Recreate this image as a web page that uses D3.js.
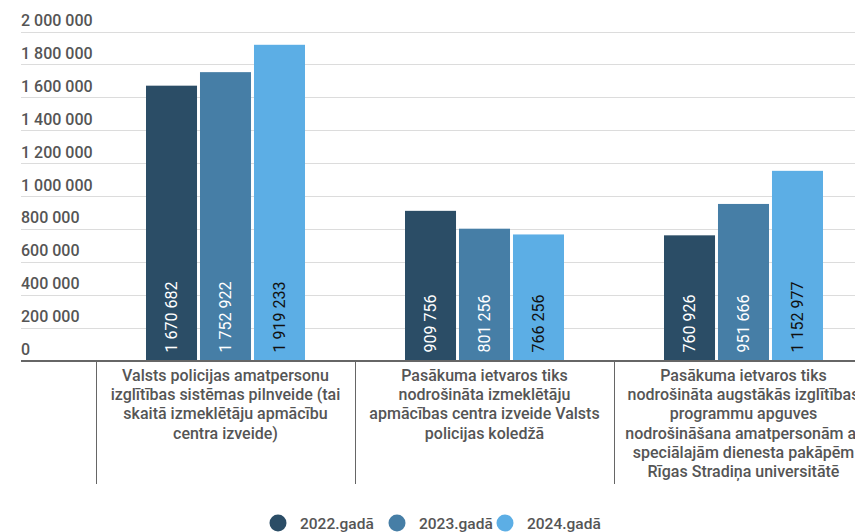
<!DOCTYPE html>
<html><head><meta charset="utf-8">
<script src="https://cdn.jsdelivr.net/npm/d3@7"></script>
<style>body{margin:0;background:#fff;overflow:hidden}svg{display:block;font-family:Roboto,"Noto Sans",sans-serif}</style>
</head><body><svg id="c" width="855" height="532"></svg>
<script>
const categories = [
  "Valsts policijas amatpersonu\nizglītības sistēmas pilnveide (tai\nskaitā izmeklētāju apmācību\ncentra izveide)",
  "Pasākuma ietvaros tiks\nnodrošināta izmeklētāju\napmācības centra izveide Valsts\npolicijas koledžā",
  "Pasākuma ietvaros tiks\nnodrošināta augstākās izglītības\nprogrammu apguves\nnodrošināšana amatpersonām ar\nspeciālajām dienesta pakāpēm\nRīgas Stradiņa universitātē"
];
const seriesNames = ["2022.gadā", "2023.gadā", "2024.gadā"];
const values2022 = [1670682, 909756, 760926];
const values2023 = [1752922, 801256, 951666];
const values2024 = [1919233, 766256, 1152977];
const yTicks = [0, 200000, 400000, 600000, 800000, 1000000, 1200000, 1400000, 1600000, 1800000, 2000000];
const colors = ["#2b4d66", "#467ea6", "#5caee5"];
const labelColors = ["#ffffff", "#ffffff", "#111111"];

const series = [values2022, values2023, values2024];
const locale = d3.formatLocale({decimal: ",", thousands: " ", grouping: [3], currency: ["", ""]});
const fmt = locale.format(",d");

const svg = d3.select("#c");
const y = d3.scaleLinear().domain([0, 2000000]).range([360.5, 31.5]);
const x0 = d3.scaleBand().domain(d3.range(categories.length)).range([96, 873]).paddingInner(0).paddingOuter(0);
const x1 = d3.scaleBand().domain(d3.range(series.length)).range([0, 159]).paddingInner(0.055);
const groupOff = (x0.bandwidth() - 159) / 2;

// gridlines + tick labels
const g = svg.append("g");
yTicks.forEach(t => {
  if (t > 0) g.append("line").attr("x1", 21).attr("x2", 855).attr("y1", Math.round(y(t)) + 0.5).attr("y2", Math.round(y(t)) + 0.5)
    .attr("stroke", "#dcdcdc").attr("stroke-width", 1);
  g.append("text").attr("x", 21).attr("y", y(t) - 5.5).text(fmt(t))
    .attr("font-size", 16).attr("font-weight", 500).attr("fill", "#555");
});

// bars
series.forEach((vals, si) => {
  vals.forEach((v, ci) => {
    const bx = x0(ci) + groupOff + x1(si);
    svg.append("rect").attr("x", bx).attr("y", y(v)).attr("width", x1.bandwidth()).attr("height", y(0) - y(v))
      .attr("fill", colors[si]);
    svg.append("text")
      .attr("transform", `translate(${bx + x1.bandwidth() / 2 + 5.5},${y(0) - 8}) rotate(-90)`)
      .attr("font-size", 16).attr("font-weight", 400).attr("fill", labelColors[si])
      .text(fmt(v));
  });
});

// axis line
svg.append("line").attr("x1", 21).attr("x2", 855).attr("y1", 361).attr("y2", 361).attr("stroke", "#666").attr("stroke-width", 2);
// separators
[0, 1, 2].forEach(i => {
  svg.append("line").attr("x1", x0(i) + 0.5).attr("x2", x0(i) + 0.5).attr("y1", 361).attr("y2", 484).attr("stroke", "#666").attr("stroke-width", 1);
});
// category labels
categories.forEach((c, i) => {
  const t = svg.append("text").attr("text-anchor", "middle").attr("font-size", 16).attr("font-weight", 500).attr("fill", "#555");
  c.split("\n").forEach((line, li) => {
    t.append("tspan").attr("x", x0(i) + x0.bandwidth() / 2).attr("y", 381 + li * 19.2).text(line);
  });
});

// legend
const lx = [278, 397, 505];
seriesNames.forEach((n, i) => {
  svg.append("circle").attr("cx", lx[i]).attr("cy", 523).attr("r", 8.5).attr("fill", colors[i]);
  svg.append("text").attr("x", lx[i] + 22).attr("y", 529).attr("font-size", 15.5).attr("font-weight", 500).attr("fill", "#555").text(n);
});
</script></body></html>
